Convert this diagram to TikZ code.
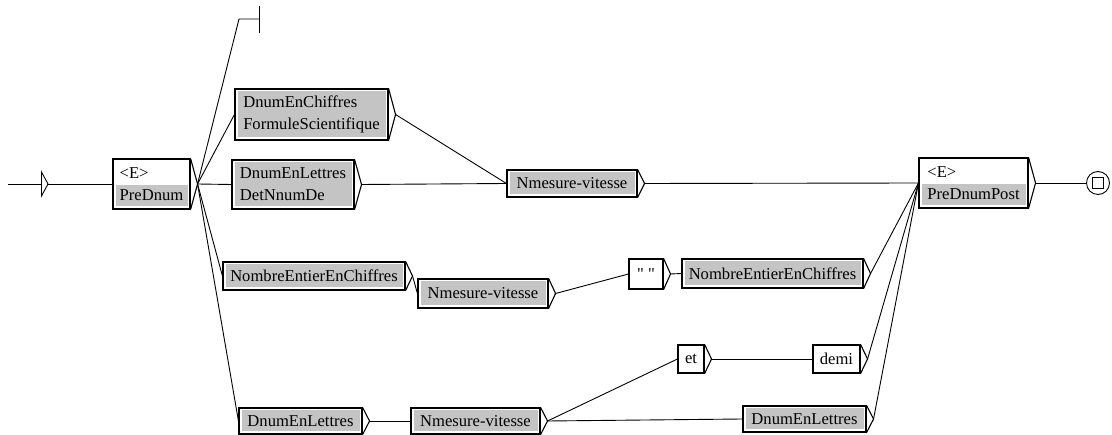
\documentclass[tikz,border=0pt]{standalone}
\usepackage{fontspec}
\newfontfamily\boxfont{Liberation Serif}
\definecolor{boxgray}{RGB}{196,196,196}
\tikzset{
  base/.style={draw=black, line width=1.1pt, fill=white, inner xsep=4pt, inner ysep=0pt,
    align=left, font={\boxfont\fontsize{16.6}{22}\selectfont}},
  lexbox/.style={base},
  subbox/.style={base, path picture={\fill[boxgray]
      ([shift={(2.5pt,-2.5pt)}]path picture bounding box.north west) rectangle
      ([shift={(-2.5pt,2.5pt)}]path picture bounding box.south east);}},
  epsbox/.style={base, path picture={\fill[boxgray]
      ([shift={(2.5pt,-1pt)}]path picture bounding box.west) rectangle
      ([shift={(-2.5pt,2.5pt)}]path picture bounding box.south east);}},
  link/.style={line width=0.9pt},
  chevron/.style={line width=1.1pt, line join=miter},
}
\newcommand\boxout[1]{%
  \draw[chevron] (#1.north east) -- ([xshift=7pt]#1.east) -- (#1.south east);
  \coordinate (#1-o) at ([xshift=7pt]#1.east);}
\begin{document}
\begin{tikzpicture}[x=1pt, y=-1pt]
\useasboundingbox (0,0) rectangle (1112,435);

% boxes
\node[epsbox, minimum width=77pt, minimum height=50pt] (pre) at (151.5,184) {<E>\\PreDnum};
\node[subbox, minimum width=153pt, minimum height=51pt] (chif) at (311.5,114.5) {DnumEnChiffres\\FormuleScientifique};
\node[subbox, minimum width=122pt, minimum height=49pt] (lett) at (293,184.5) {DnumEnLettres\\DetNnumDe};
\node[subbox, minimum width=130pt, minimum height=27pt] (nmA) at (572,183.5) {Nmesure-vitesse};
\node[epsbox, minimum width=109pt, minimum height=50pt] (post) at (973.5,183) {<E>\\PreDnumPost};

\node[subbox, minimum width=182pt, minimum height=28pt] (entA) at (314,276) {NombreEntierEnChiffres};
\node[subbox, minimum width=130pt, minimum height=29pt] (nmB) at (483,293.5) {Nmesure-vitesse};
\node[lexbox, minimum width=34pt, minimum height=30pt] (quot) at (646,274) {" "};
\node[subbox, minimum width=181pt, minimum height=29pt] (entB) at (772.5,273.5) {NombreEntierEnChiffres};

\node[subbox, minimum width=123pt, minimum height=26pt] (letB) at (300.5,421) {DnumEnLettres};
\node[subbox, minimum width=129pt, minimum height=26pt] (nmC) at (475.5,421) {Nmesure-vitesse};
\node[lexbox, minimum width=26pt, minimum height=28pt] (et) at (691,359) {et};
\node[lexbox, minimum width=47pt, minimum height=28pt] (demi) at (836.5,359) {demi};
\node[subbox, minimum width=123pt, minimum height=26pt] (letC) at (804.5,419) {DnumEnLettres};

% output chevrons
\boxout{pre}\boxout{chif}\boxout{lett}\boxout{nmA}\boxout{post}
\boxout{entA}\boxout{nmB}\boxout{quot}\boxout{entB}
\boxout{letB}\boxout{nmC}\boxout{et}\boxout{demi}\boxout{letC}

% initial state
\coordinate (init) at (8,184);
\coordinate (tri) at (41.5,184);
\draw[link] (init) -- (pre.west);
\draw[link, fill=white] ([yshift=-12pt]tri) -- ([xshift=6.5pt]tri) -- ([yshift=12pt]tri) -- cycle;

% final state
\node[circle, draw, line width=0.9pt, minimum size=23pt, inner sep=0pt] (final) at (1098,183) {};
\node[draw, line width=0.9pt, minimum size=11pt, inner sep=0pt] (finalsq) at (final) {};

% comment-like branch at the top
\coordinate (topc) at (239,19);
\coordinate (topb) at (259,19);
\draw[link] (pre-o) -- (topc) -- (topb);
\draw[link] ([yshift=-14pt]topb) -- ([yshift=13pt]topb);

% transitions
\draw[link] (pre-o) -- (chif.west);
\draw[link] (pre-o) -- (lett.west);
\draw[link] (pre-o) -- (entA.west);
\draw[link] (pre-o) -- (letB.west);

\draw[link] (chif-o) -- (nmA.west);
\draw[link] (lett-o) -- (nmA.west);
\draw[link] (nmA-o) -- (post.west);

\draw[link] (entA-o) -- (nmB.west);
\draw[link] (nmB-o) -- (quot.west);
\draw[link] (quot-o) -- (entB.west);
\draw[link] (entB-o) -- (post.west);

\draw[link] (letB-o) -- (nmC.west);
\draw[link] (nmC-o) -- (et.west);
\draw[link] (nmC-o) -- (letC.west);
\draw[link] (et-o) -- (demi.west);
\draw[link] (demi-o) -- (post.west);
\draw[link] (letC-o) -- (post.west);

\draw[link] (post-o) -- (final.west);
\end{tikzpicture}
\end{document}
